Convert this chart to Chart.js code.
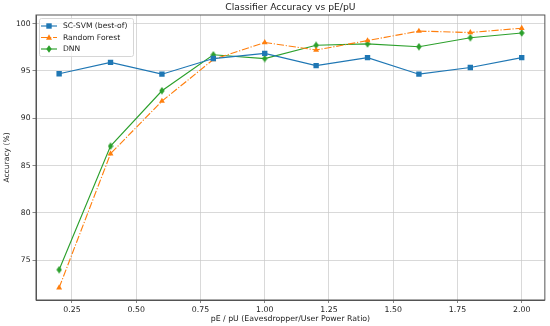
<!DOCTYPE html>
<html>
<head>
<meta charset="utf-8">
<script src="https://cdn.jsdelivr.net/npm/chart.js@4.4.0/dist/chart.umd.min.js"></script>
<style>
  html, body { margin: 0; padding: 0; background: #fff; }
  #wrap { width: 550px; height: 326px; position: relative; }
</style>
</head>
<body>
<div id="wrap"><canvas id="accChart"></canvas></div>
<script>
// data
const ratios = [0.2, 0.4, 0.6, 0.8, 1.0, 1.2, 1.4, 1.6, 1.8, 2.0];
const svmAcc = [94.7, 95.9, 94.65, 96.3, 96.85, 95.55, 96.4, 94.65, 95.35, 96.4];
const rfAcc  = [72.1, 86.25, 91.8, 96.2, 98.0, 97.2, 98.2, 99.2, 99.05, 99.5];
const dnnAcc = [74.0, 87.05, 92.9, 96.7, 96.3, 97.7, 97.85, 97.55, 98.5, 99.0];
const xTicks = [0.25, 0.50, 0.75, 1.00, 1.25, 1.50, 1.75, 2.00];
const yTicks = [75, 80, 85, 90, 95, 100];
const seriesNames = ['SC-SVM (best-of)', 'Random Forest', 'DNN'];
const chartTitle = 'Classifier Accuracy vs pE/pU';

const FONT = 'DejaVu Sans';
const BLUE = '#1f77b4', ORANGE = '#ff7f0e', GREEN = '#2ca02c';
const DASHDOT = [7.3, 1.8, 1.15, 1.8];

// thin diamond like matplotlib 'd'
function thinDiamond(color) {
    const c = document.createElement('canvas');
    c.width = 6; c.height = 8;
    const g = c.getContext('2d');
    g.fillStyle = color;
    g.beginPath();
    g.moveTo(3, 0.3); g.lineTo(5.7, 4); g.lineTo(3, 7.7); g.lineTo(0.3, 4);
    g.closePath();
    g.fill();
    return c;
}
const dnnMarker = thinDiamond(GREEN);

function pts(arr) {
    return ratios.map((x, i) => ({ x: x, y: arr[i] }));
}

// title over the axes, frame, and legend inside the plot
const boxPlugin = {
    id: 'boxPlugin',
    afterDraw(chart) {
        const ctx = chart.ctx;
        const a = chart.chartArea;
        ctx.save();
        ctx.strokeStyle = '#555';
        ctx.lineWidth = 1;
        ctx.strokeRect(a.left, a.top, a.right - a.left, a.bottom - a.top);

        ctx.fillStyle = '#222';
        ctx.font = '9.2px ' + FONT;
        ctx.textAlign = 'center';
        ctx.textBaseline = 'middle';
        ctx.fillText(chartTitle, (a.left + a.right) / 2, 7.5);

        // legend frame
        const lx = 39.5, ly = 18.5, lw = 94, lh = 38;
        ctx.fillStyle = 'rgba(255,255,255,0.8)';
        ctx.strokeStyle = '#d6d6d6';
        ctx.lineWidth = 1;
        ctx.beginPath();
        ctx.roundRect(lx, ly, lw, lh, 2);
        ctx.fill();
        ctx.stroke();

        const styles = [
            { color: BLUE, dash: [], marker: 'rect' },
            { color: ORANGE, dash: DASHDOT, marker: 'tri' },
            { color: GREEN, dash: [], marker: 'dia' }
        ];
        ctx.font = '7.6px ' + FONT;
        for (let i = 0; i < 3; i++) {
            const yy = 26 + i * 11.5;
            const s = styles[i];
            ctx.strokeStyle = s.color;
            ctx.lineWidth = 1.15;
            ctx.setLineDash(s.dash);
            ctx.beginPath();
            ctx.moveTo(41, yy);
            ctx.lineTo(57, yy);
            ctx.stroke();
            ctx.setLineDash([]);
            ctx.fillStyle = s.color;
            const cx = 49;
            if (s.marker === 'rect') {
                ctx.fillRect(cx - 2.7, yy - 2.7, 5.4, 5.4);
            } else if (s.marker === 'tri') {
                ctx.beginPath();
                ctx.moveTo(cx, yy - 3.2); ctx.lineTo(cx + 3, yy + 2.3); ctx.lineTo(cx - 3, yy + 2.3);
                ctx.closePath(); ctx.fill();
            } else {
                ctx.drawImage(dnnMarker, cx - 3, yy - 4);
            }
            ctx.fillStyle = '#222';
            ctx.textAlign = 'left';
            ctx.fillText(seriesNames[i], 63, yy + 0.5);
        }
        ctx.restore();
    }
};

const ctx = document.getElementById('accChart').getContext('2d');
new Chart(ctx, {
    type: 'line',
    data: {
        datasets: [
            {
                label: seriesNames[0],
                data: pts(svmAcc),
                borderColor: BLUE,
                backgroundColor: BLUE,
                borderWidth: 1.15,
                pointStyle: 'rect',
                pointRadius: 3.8,
                pointBorderWidth: 0,
                tension: 0
            },
            {
                label: seriesNames[1],
                data: pts(rfAcc),
                borderColor: ORANGE,
                backgroundColor: ORANGE,
                borderWidth: 1.15,
                borderDash: DASHDOT,
                pointStyle: 'triangle',
                pointRadius: 3.4,
                pointBorderWidth: 0,
                tension: 0
            },
            {
                label: seriesNames[2],
                data: pts(dnnAcc),
                borderColor: GREEN,
                backgroundColor: GREEN,
                borderWidth: 1.15,
                pointStyle: dnnMarker,
                tension: 0
            }
        ]
    },
    options: {
        responsive: true,
        maintainAspectRatio: false,
        animation: false,
        events: [],
        layout: { padding: { left: 0, right: 5, top: 15, bottom: 0 } },
        plugins: {
            legend: { display: false },
            tooltip: { enabled: false },
            title: { display: false }
        },
        scales: {
            x: {
                type: 'linear',
                min: 0.11,
                max: 2.09,
                afterBuildTicks(scale) {
                    scale.ticks = xTicks.map(v => ({ value: v }));
                },
                afterFit(scale) { scale.height = 26; },
                ticks: {
                    color: '#222',
                    font: { family: FONT, size: 7.8 },
                    padding: 2,
                    maxRotation: 0,
                    callback: v => v.toFixed(2)
                },
                grid: { color: '#c8c8c8', lineWidth: 0.7, tickLength: 3, tickColor: '#555' },
                border: { display: true, color: '#555', width: 1 },
                title: {
                    display: true,
                    text: 'pE / pU (Eavesdropper/User Power Ratio)',
                    color: '#222',
                    font: { family: FONT, size: 7.8 },
                    padding: { top: 0, bottom: 2 }
                }
            },
            y: {
                type: 'linear',
                min: 70.8,
                max: 100.9,
                afterBuildTicks(scale) {
                    scale.ticks = yTicks.map(v => ({ value: v }));
                },
                afterFit(scale) { scale.width = 36; },
                ticks: {
                    color: '#222',
                    font: { family: FONT, size: 7.6 },
                    padding: 2
                },
                grid: { color: '#c8c8c8', lineWidth: 0.7, tickLength: 3.5, tickColor: '#555' },
                border: { display: true, color: '#555', width: 1 },
                title: {
                    display: true,
                    text: 'Accuracy (%)',
                    color: '#222',
                    font: { family: FONT, size: 7.6 },
                    padding: { top: 2, bottom: 0 }
                }
            }
        }
    },
    plugins: [boxPlugin]
});
</script>
</body>
</html>
